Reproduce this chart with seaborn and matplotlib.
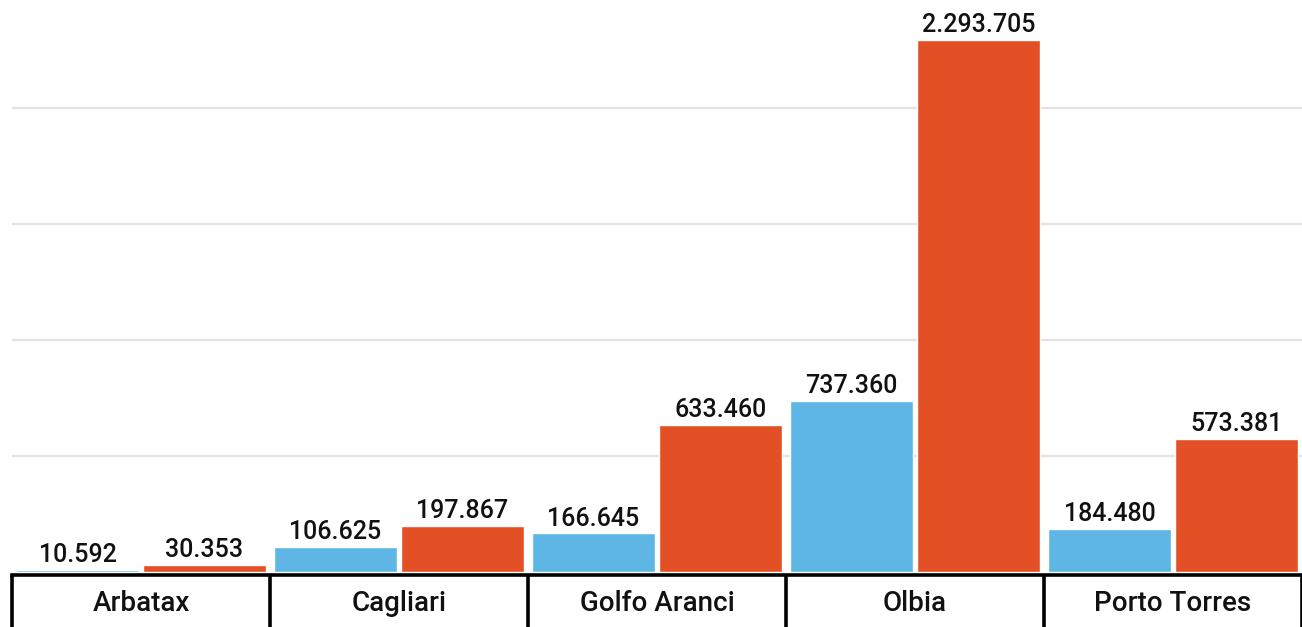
import pandas as pd
import seaborn as sns
import matplotlib.pyplot as plt

# Data
ports = ["Arbatax", "Cagliari", "Golfo Aranci", "Olbia", "Porto Torres"]
serie_blu = [10592, 106625, 166645, 737360, 184480]
serie_rossa = [30353, 197867, 633460, 2293705, 573381]
serie_nomi = ["Serie A", "Serie B"]
colori = ["#5EB6E4", "#E45026"]

df = pd.DataFrame({
    "porto": ports * 2,
    "valore": serie_blu + serie_rossa,
    "serie": [serie_nomi[0]] * len(ports) + [serie_nomi[1]] * len(ports),
})

sns.set_theme(style="white")
plt.rcParams["font.family"] = ["Roboto", "DejaVu Sans"]

fig = plt.figure(figsize=(13.02, 6.27), dpi=100)
# zero line sits at y=572 px, axes top at the figure top
ax = fig.add_axes([12 / 1302, 1 - 572 / 627, 1 - 12 / 1302, 572 / 627])

sns.barplot(data=df, x="porto", y="valore", hue="serie", palette=colori,
            width=0.985, gap=0.035, saturation=1, legend=False, ax=ax)

for side in ["top", "right", "left"]:
    ax.spines[side].set_visible(False)
ax.spines["bottom"].set_color("black")
ax.spines["bottom"].set_linewidth(2.6)
ax.spines["bottom"].set_position(("outward", 2.2))

ax.set_ylim(0, 2465000)
ax.set_xlim(-0.5, len(ports) - 0.5)
ax.set_yticks([500000, 1000000, 1500000, 2000000])
ax.yaxis.grid(True, color="#e3e3e3", linewidth=1.6)
ax.set_axisbelow(True)
ax.tick_params(axis="y", left=False, labelleft=False)

# category separators below the baseline
ax.set_xticks(range(len(ports)))
ax.set_xticklabels(ports, fontsize=20, fontweight="medium", color="#111111")
ax.set_xticks([i - 0.5 for i in range(len(ports) + 1)], minor=True)
ax.tick_params(axis="x", which="major", bottom=False, length=0, pad=11)
ax.tick_params(axis="x", which="minor", bottom=True, length=42, width=2.6,
               color="black", direction="out")
ax.set_xlabel("")
ax.set_ylabel("")


def fmt_it(v):
    return f"{int(round(v)):,}".replace(",", ".")


for cont in ax.containers:
    ax.bar_label(cont, labels=[fmt_it(b.get_height()) for b in cont],
                 padding=2, fontsize=18, fontweight="medium", color="#111111")

fig.savefig("out.png", dpi=100)
